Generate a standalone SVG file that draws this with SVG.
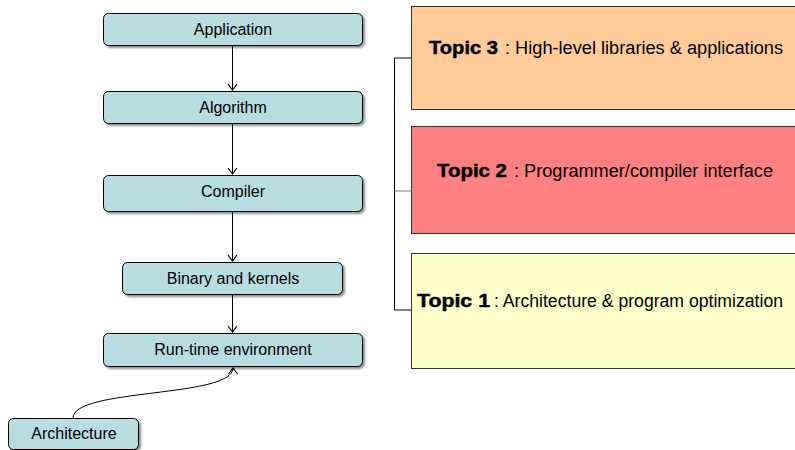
<svg xmlns="http://www.w3.org/2000/svg" width="795" height="450" viewBox="0 0 795 450">
<defs>
<marker id="open" markerWidth="12" markerHeight="12" refX="10" refY="5" orient="auto" markerUnits="userSpaceOnUse">
<path d="M4,0.5 L10,5 L4,9.5" fill="none" stroke="#000" stroke-width="1.2"/>
</marker>
<filter id="sh" x="-10%" y="-20%" width="120%" height="150%">
<feOffset dx="2" dy="2" in="SourceAlpha" result="o"/>
<feGaussianBlur in="o" stdDeviation="0.8" result="b"/>
<feComponentTransfer in="b" result="c"><feFuncA type="linear" slope="0.45"/></feComponentTransfer>
<feMerge><feMergeNode in="c"/><feMergeNode in="SourceGraphic"/></feMerge>
</filter>
</defs>
<style>
.n{fill:#B8DDE1;stroke:#000;stroke-width:1;filter:url(#sh)}
.t{font-family:"Liberation Sans",Arial,sans-serif;font-size:16px;fill:#000;text-anchor:middle}
.c{fill:none;stroke:#000;stroke-width:1}
.tp{stroke:#333;stroke-width:1}
.tt{font-family:"Liberation Sans",Arial,sans-serif;font-size:18px;fill:#000}
.b{font-family:"Liberation Sans",Arial,sans-serif;font-size:18px;font-weight:bold;fill:#000;stroke:#000;stroke-width:0.45}
</style>
<rect width="795" height="450" fill="#fff"/>
<g id="connectors">
<line class="c" x1="232.5" y1="46" x2="232.5" y2="90" marker-end="url(#open)"/>
<line class="c" x1="232.5" y1="124" x2="232.5" y2="174" marker-end="url(#open)"/>
<line class="c" x1="232.5" y1="212" x2="232.5" y2="261" marker-end="url(#open)"/>
<line class="c" x1="232.5" y1="295" x2="232.5" y2="332" marker-end="url(#open)"/>
<path class="c" d="M73,418 C73,388 233,398 233,368" marker-end="url(#open)"/>
<path class="c" d="M411,58 H394.5 V310 H411"/>
<line x1="394.5" y1="191" x2="411" y2="191" stroke="#777" stroke-width="1"/>
</g>
<g id="application"><rect class="n" x="103.5" y="13.5" width="259" height="32" rx="5"/><text class="t" x="233" y="35">Application</text></g>
<g id="algorithm"><rect class="n" x="103.5" y="91.5" width="259" height="32" rx="5"/><text class="t" x="233" y="113">Algorithm</text></g>
<g id="compiler"><rect class="n" x="103.5" y="175.5" width="259" height="36" rx="5"/><text class="t" x="233" y="197">Compiler</text></g>
<g id="binary"><rect class="n" x="122.5" y="262.5" width="220" height="32" rx="5"/><text class="t" x="233" y="284">Binary and kernels</text></g>
<g id="runtime"><rect class="n" x="103.5" y="333.5" width="259" height="33" rx="5"/><text class="t" x="233" y="355">Run-time environment</text></g>
<g id="architecture"><rect class="n" x="8.5" y="418.5" width="130" height="31" rx="5"/><text class="t" x="74" y="439">Architecture</text></g>
<g id="topic3"><rect class="tp" x="411.5" y="6.5" width="390" height="103" fill="#FFCC99"/><text class="b" x="429" y="54" textLength="69" lengthAdjust="spacingAndGlyphs">Topic 3</text><text class="tt" x="505" y="54" textLength="278" lengthAdjust="spacingAndGlyphs">: High-level libraries &amp; applications</text></g>
<g id="topic2"><rect class="tp" x="411.5" y="126.5" width="390" height="107" fill="#FF8080"/><text class="b" x="437" y="177" textLength="70" lengthAdjust="spacingAndGlyphs">Topic 2</text><text class="tt" x="514" y="177" textLength="259" lengthAdjust="spacingAndGlyphs">: Programmer/compiler interface</text></g>
<g id="topic1"><rect class="tp" x="411.5" y="253.5" width="390" height="115" fill="#FFFFCC"/><text class="b" x="417" y="307" textLength="73" lengthAdjust="spacingAndGlyphs">Topic 1</text><text class="tt" x="494" y="307" textLength="289" lengthAdjust="spacingAndGlyphs">: Architecture &amp; program optimization</text></g>
</svg>
